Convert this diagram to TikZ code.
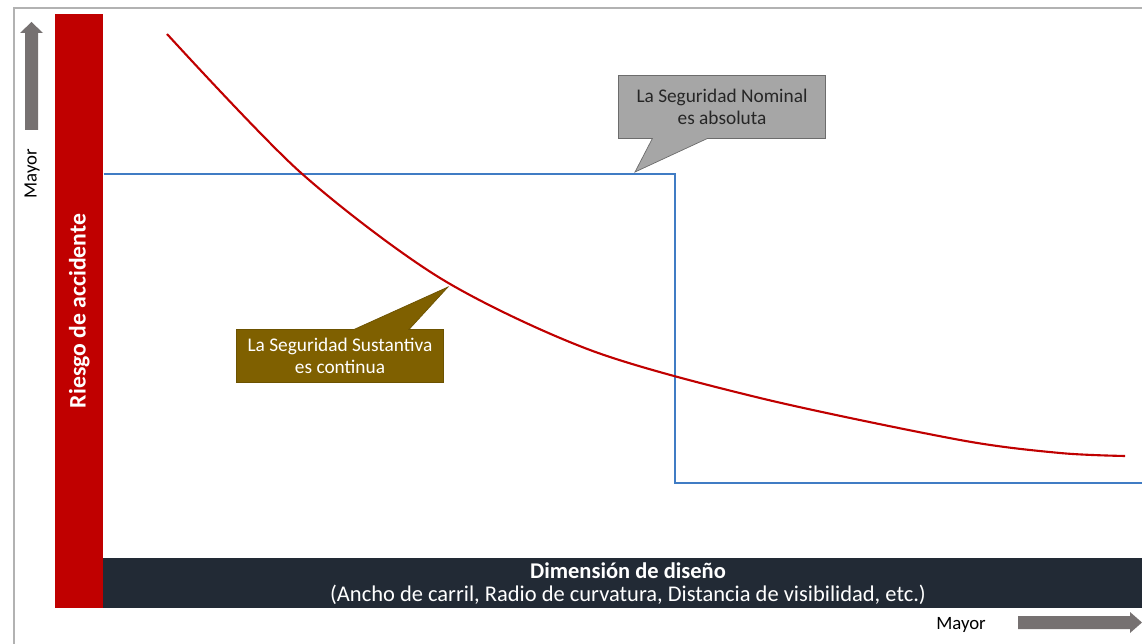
\documentclass[tikz,border=0pt]{standalone}
\usepackage{fontspec}
\setmainfont{Carlito}
\usetikzlibrary{calc}
\usetikzlibrary{shapes.callouts}
\definecolor{riesgo}{RGB}{192,0,0}
\definecolor{barra}{RGB}{34,42,53}
\definecolor{nominal}{RGB}{64,124,196}
\definecolor{flecha}{RGB}{118,113,113}
\definecolor{marco}{RGB}{178,178,178}
\definecolor{caja}{RGB}{166,166,166}
\definecolor{cafe}{RGB}{127,96,0}
\tikzset{
 globo/.style={rectangle callout, minimum width=4.14cm, align=center, inner sep=0,
  callout pointer width=1.1cm, font=\fontsize{11}{12.5}\selectfont},
 etiqueta/.style={font=\fontsize{10.7}{12}\selectfont, inner sep=0}
}

\begin{document}
\begin{tikzpicture}[x=0.02cm,y=-0.02cm]
\useasboundingbox (0,0) rectangle (1142,644);
\draw[marco, line width=1.6pt] (14,644)--(14,8)--(1142,8);
\node[fill=riesgo, anchor=north west, inner sep=0, minimum width=0.96cm, minimum height=11.88cm] (riesgo) at (55,14) {};
\node[fill=barra, anchor=north west, inner sep=0, minimum width=20.78cm, minimum height=1.0cm] (dimension) at (103,558) {};
\node[rotate=90, text=white, font=\bfseries\fontsize{13.5}{14}\selectfont] (lblriesgo) at (riesgo.center |- 0,311) {Riesgo de accidente};
\node[text=white, align=center, font=\fontsize{12.8}{13}\selectfont] (lbldimension) at (628,584) {\textbf{Dimensión de diseño}\\(Ancho de carril, Radio de curvatura, Distancia de visibilidad, etc.)};
\draw[nominal, line width=1.4pt] (riesgo.east |- 0,174) -- (675,174) -- (675,483) -- (1142,483);
\draw[riesgo, line width=1.2pt] plot[smooth] coordinates {(167,34) (300,172) (440,278) (590,350) (760,398) (960,440) (1060,453) (1125,456)};
\node[globo, fill=caja, draw=gray!85!black, text=black!85, minimum height=1.26cm, callout absolute pointer={(635,172)}] (segnominal) at (722,107) {La Seguridad Nominal\\es absoluta};
\node[globo, fill=cafe, draw=cafe!85!black, text=white, minimum height=1.06cm, callout absolute pointer={(448,287)}] (segsustantiva) at (340,356) {La Seguridad Sustantiva\\es continua};
\fill[flecha] (25,130)--(25,33)--(20,33)--(31.5,22)--(43,33)--(38,33)--(38,130)--cycle;
\fill[flecha] (1018,616)--(1130,616)--(1130,612)--(1142,622.5)--(1130,633)--(1130,629)--(1018,629)--cycle;
\node[etiqueta, rotate=90] (mayory) at (32,174) {Mayor};
\node[etiqueta] (mayorx) at (961,625) {Mayor};
\end{tikzpicture}
\end{document}
